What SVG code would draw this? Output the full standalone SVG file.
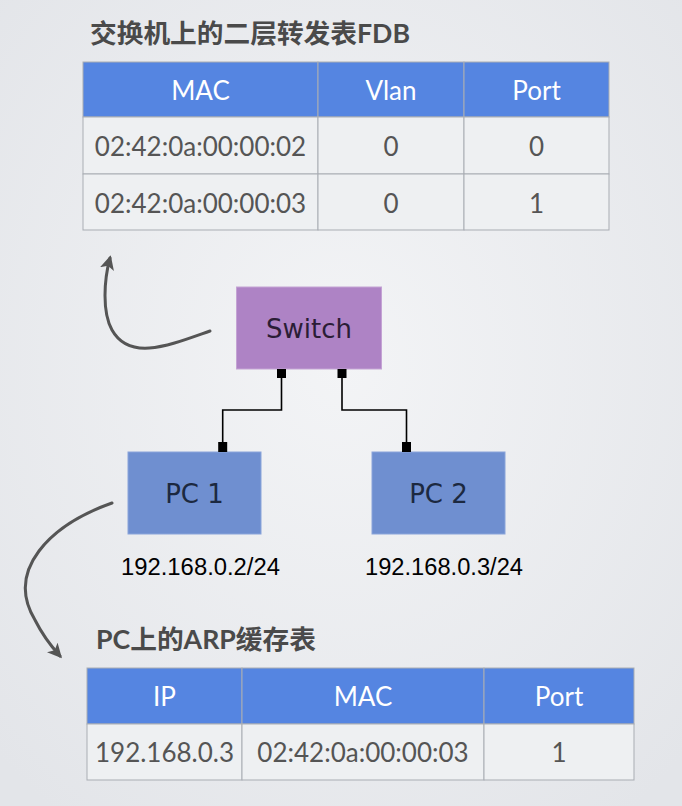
<svg xmlns="http://www.w3.org/2000/svg" width="682" height="806" viewBox="0 0 682 806">
<defs>
<radialGradient id="bg" cx="50%" cy="45%" r="70%">
<stop offset="0" stop-color="#f3f4f6"/>
<stop offset="1" stop-color="#e3e5e9"/>
</radialGradient>
<marker id="ah" viewBox="0 0 10 10" refX="8" refY="5" markerWidth="4.8" markerHeight="4.8" orient="auto" markerUnits="strokeWidth">
<path d="M0,0 L10,5 L0,10 L2.5,5 Z" fill="#555"/>
</marker>
<style>
.title{font-family:"Lato","Noto Sans CJK SC",sans-serif;font-weight:bold;font-size:26px;fill:#4a4a4a}
.hd{fill:#5585e1;stroke:#a9adb3;stroke-width:1}
.cell{fill:#eef0f2;stroke:#a9adb3;stroke-width:1}
.ht{font-family:"Lato",sans-serif;font-size:26px;fill:#ffffff;text-anchor:middle}
.bt{font-family:"Lato",sans-serif;font-size:26px;fill:#555555;text-anchor:middle}
.node{font-family:"DejaVu Sans",sans-serif;font-size:26px;text-anchor:middle}
.ip{font-family:"Liberation Sans",sans-serif;font-size:23px;fill:#000}
.port{fill:#000}
.wire{fill:none;stroke:#000;stroke-width:1.6}
.curve{fill:none;stroke:#555;stroke-width:3;stroke-linecap:round}
</style>
</defs>
<rect width="682" height="806" fill="url(#bg)"/>

<g id="fdb-table">
<text class="title" x="90" y="43" textLength="320" lengthAdjust="spacingAndGlyphs">交换机上的二层转发表FDB</text>
<rect class="hd" x="83" y="62" width="235" height="55"/>
<rect class="hd" x="318" y="62" width="146" height="55"/>
<rect class="hd" x="464" y="62" width="145" height="55"/>
<rect class="cell" x="83" y="117" width="235" height="57"/>
<rect class="cell" x="318" y="117" width="146" height="57"/>
<rect class="cell" x="464" y="117" width="145" height="57"/>
<rect class="cell" x="83" y="174" width="235" height="56"/>
<rect class="cell" x="318" y="174" width="146" height="56"/>
<rect class="cell" x="464" y="174" width="145" height="56"/>
<text class="ht" x="200.5" y="100">MAC</text>
<text class="ht" x="391" y="100">Vlan</text>
<text class="ht" x="536.5" y="100">Port</text>
<text class="bt" x="200.5" y="156">02:42:0a:00:00:02</text>
<text class="bt" x="391" y="156">0</text>
<text class="bt" x="536.5" y="156">0</text>
<text class="bt" x="200.5" y="213">02:42:0a:00:00:03</text>
<text class="bt" x="391" y="213">0</text>
<text class="bt" x="536.5" y="213">1</text>
</g>

<g id="switch">
<rect x="236.5" y="287" width="145" height="82" fill="#ae83c5" stroke="#c4a3d4" stroke-width="1"/>
<text class="node" x="309" y="338" fill="#2b1d36">Switch</text>
</g>

<g id="pc1">
<rect x="128" y="452" width="133" height="82" fill="#6f8fd0" stroke="#8aa4da" stroke-width="1"/>
<text class="node" x="194.5" y="503" fill="#1c2940">PC 1</text>
<text class="ip" x="121" y="575" textLength="159" lengthAdjust="spacingAndGlyphs">192.168.0.2/24</text>
</g>

<g id="pc2">
<rect x="372" y="452" width="133" height="82" fill="#6f8fd0" stroke="#8aa4da" stroke-width="1"/>
<text class="node" x="438.5" y="503" fill="#1c2940">PC 2</text>
<text class="ip" x="365" y="575" textLength="158" lengthAdjust="spacingAndGlyphs">192.168.0.3/24</text>
</g>

<g id="arp-table">
<text class="title" x="96" y="649" textLength="220" lengthAdjust="spacingAndGlyphs">PC上的ARP缓存表</text>
<rect class="hd" x="87" y="668" width="155" height="56"/>
<rect class="hd" x="242" y="668" width="242" height="56"/>
<rect class="hd" x="484" y="668" width="150" height="56"/>
<rect class="cell" x="87" y="724" width="155" height="56"/>
<rect class="cell" x="242" y="724" width="242" height="56"/>
<rect class="cell" x="484" y="724" width="150" height="56"/>
<text class="ht" x="164.5" y="706">IP</text>
<text class="ht" x="363" y="706">MAC</text>
<text class="ht" x="559" y="706">Port</text>
<text class="bt" x="164.5" y="762">192.168.0.3</text>
<text class="bt" x="363" y="762">02:42:0a:00:00:03</text>
<text class="bt" x="559" y="762">1</text>
</g>

<g id="connectors">
<path class="wire" d="M281.5,373 V410 H222.7 V447"/>
<path class="wire" d="M342,373 V410 H406.5 V447"/>
<rect class="port" x="277" y="369" width="9" height="9"/>
<rect class="port" x="337.5" y="369" width="9" height="9"/>
<rect class="port" x="218.2" y="442" width="9" height="10"/>
<rect class="port" x="402" y="442" width="9" height="10"/>
<path class="curve" d="M210,331 C170,345 130,362 112,330 C102,312 104,280 110,258" marker-end="url(#ah)"/>
<path class="curve" d="M112,503 C50,525 5,570 35,620 C42,634 50,645 60,656" marker-end="url(#ah)"/>
</g>
</svg>
